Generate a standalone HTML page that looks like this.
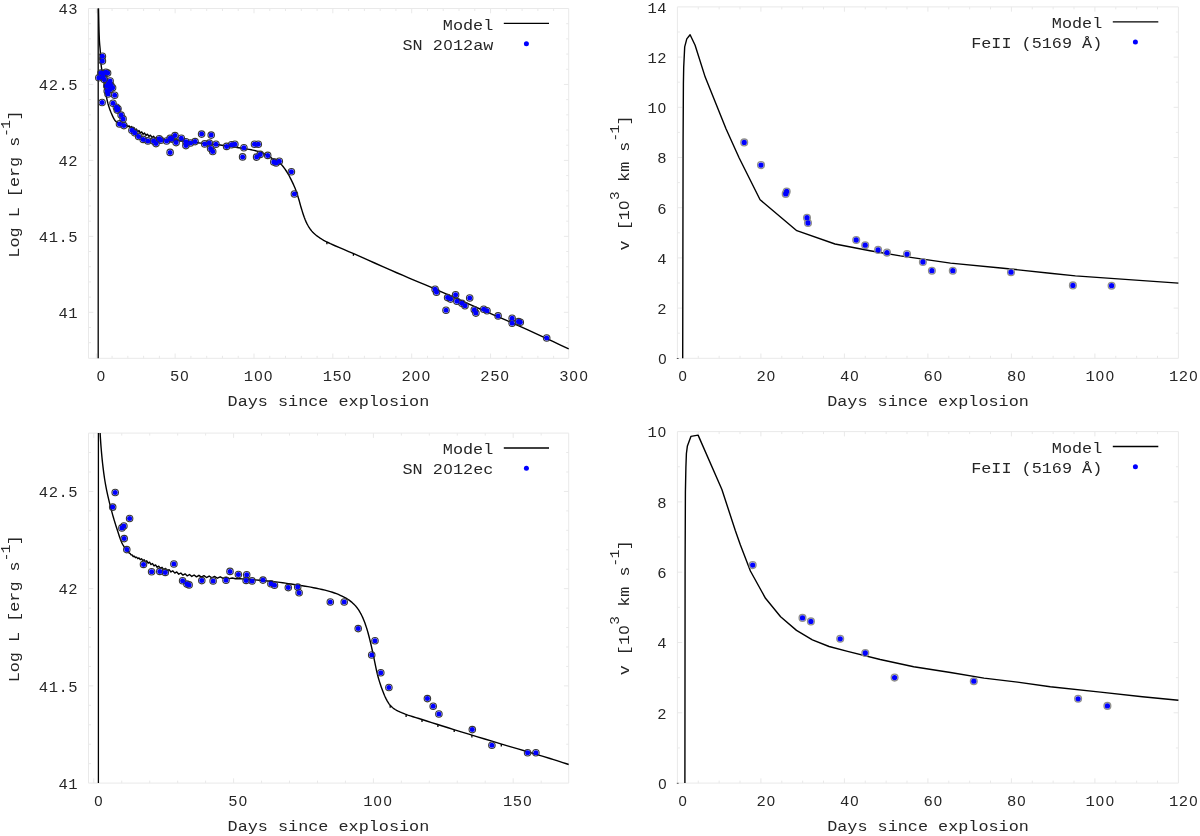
<!DOCTYPE html>
<html lang="en"><head><meta charset="utf-8"><title>Model light curves and velocities</title>
<style>html,body{margin:0;padding:0;background:#fff;overflow:hidden}svg{display:block}text{font-family:"Liberation Mono","DejaVu Sans Mono",monospace;fill:#262626;white-space:pre}.z{font-family:"Liberation Sans","DejaVu Sans",sans-serif}</style>
</head><body>
<svg width="1200" height="836" viewBox="0 0 1200 836">
<rect width="1200" height="836" fill="#fff"/>
<path d="M88.5 8.5H568.7V358.3H88.5ZM96.3 358.3v-4.8M96.3 8.5v4.8M112.07 358.3v-2.5M112.07 8.5v2.5M127.84 358.3v-2.5M127.84 8.5v2.5M143.61 358.3v-2.5M143.61 8.5v2.5M159.38 358.3v-2.5M159.38 8.5v2.5M175.15 358.3v-4.8M175.15 8.5v4.8M190.92 358.3v-2.5M190.92 8.5v2.5M206.69 358.3v-2.5M206.69 8.5v2.5M222.46 358.3v-2.5M222.46 8.5v2.5M238.23 358.3v-2.5M238.23 8.5v2.5M254 358.3v-4.8M254 8.5v4.8M269.77 358.3v-2.5M269.77 8.5v2.5M285.54 358.3v-2.5M285.54 8.5v2.5M301.31 358.3v-2.5M301.31 8.5v2.5M317.08 358.3v-2.5M317.08 8.5v2.5M332.85 358.3v-4.8M332.85 8.5v4.8M348.62 358.3v-2.5M348.62 8.5v2.5M364.39 358.3v-2.5M364.39 8.5v2.5M380.16 358.3v-2.5M380.16 8.5v2.5M395.93 358.3v-2.5M395.93 8.5v2.5M411.7 358.3v-4.8M411.7 8.5v4.8M427.47 358.3v-2.5M427.47 8.5v2.5M443.24 358.3v-2.5M443.24 8.5v2.5M459.01 358.3v-2.5M459.01 8.5v2.5M474.78 358.3v-2.5M474.78 8.5v2.5M490.55 358.3v-4.8M490.55 8.5v4.8M506.32 358.3v-2.5M506.32 8.5v2.5M522.09 358.3v-2.5M522.09 8.5v2.5M537.86 358.3v-2.5M537.86 8.5v2.5M553.63 358.3v-2.5M553.63 8.5v2.5M88.5 342.68h2.5M568.7 342.68h-2.5M88.5 327.49h2.5M568.7 327.49h-2.5M88.5 312.3h4.8M568.7 312.3h-4.8M88.5 297.11h2.5M568.7 297.11h-2.5M88.5 281.92h2.5M568.7 281.92h-2.5M88.5 266.73h2.5M568.7 266.73h-2.5M88.5 251.54h2.5M568.7 251.54h-2.5M88.5 236.35h4.8M568.7 236.35h-4.8M88.5 221.16h2.5M568.7 221.16h-2.5M88.5 205.97h2.5M568.7 205.97h-2.5M88.5 190.78h2.5M568.7 190.78h-2.5M88.5 175.59h2.5M568.7 175.59h-2.5M88.5 160.4h4.8M568.7 160.4h-4.8M88.5 145.21h2.5M568.7 145.21h-2.5M88.5 130.02h2.5M568.7 130.02h-2.5M88.5 114.83h2.5M568.7 114.83h-2.5M88.5 99.64h2.5M568.7 99.64h-2.5M88.5 84.45h4.8M568.7 84.45h-4.8M88.5 69.26h2.5M568.7 69.26h-2.5M88.5 54.07h2.5M568.7 54.07h-2.5M88.5 38.88h2.5M568.7 38.88h-2.5M88.5 23.69h2.5M568.7 23.69h-2.5" fill="none" stroke="#e9e9e9" stroke-width="1"/>
<text x="100.9" y="380.9" text-anchor="middle" font-size="15.5" letter-spacing="0.55" ><tspan class="z" font-size="14.92" dx="0.49" letter-spacing="1.06">0</tspan></text>
<text x="179.75" y="380.9" text-anchor="middle" font-size="15.5" letter-spacing="0.55" >5<tspan class="z" font-size="14.92" dx="0.49" letter-spacing="1.06">0</tspan></text>
<text x="258.6" y="380.9" text-anchor="middle" font-size="15.5" letter-spacing="0.55" >1<tspan class="z" font-size="14.92" dx="0.49" letter-spacing="1.06">0</tspan><tspan class="z" font-size="14.92" dx="0.49" letter-spacing="1.06">0</tspan></text>
<text x="337.45" y="380.9" text-anchor="middle" font-size="15.5" letter-spacing="0.55" >15<tspan class="z" font-size="14.92" dx="0.49" letter-spacing="1.06">0</tspan></text>
<text x="416.3" y="380.9" text-anchor="middle" font-size="15.5" letter-spacing="0.55" >2<tspan class="z" font-size="14.92" dx="0.49" letter-spacing="1.06">0</tspan><tspan class="z" font-size="14.92" dx="0.49" letter-spacing="1.06">0</tspan></text>
<text x="495.15" y="380.9" text-anchor="middle" font-size="15.5" letter-spacing="0.55" >25<tspan class="z" font-size="14.92" dx="0.49" letter-spacing="1.06">0</tspan></text>
<text x="574" y="380.9" text-anchor="middle" font-size="15.5" letter-spacing="0.55" >3<tspan class="z" font-size="14.92" dx="0.49" letter-spacing="1.06">0</tspan><tspan class="z" font-size="14.92" dx="0.49" letter-spacing="1.06">0</tspan></text>
<text x="78.2" y="14.3" text-anchor="end" font-size="15.5" letter-spacing="0.55" >43</text>
<text x="78.2" y="90.25" text-anchor="end" font-size="15.5" letter-spacing="0.55" >42.5</text>
<text x="78.2" y="166.2" text-anchor="end" font-size="15.5" letter-spacing="0.55" >42</text>
<text x="78.2" y="242.15" text-anchor="end" font-size="15.5" letter-spacing="0.55" >41.5</text>
<text x="78.2" y="318.1" text-anchor="end" font-size="15.5" letter-spacing="0.55" >41</text>
<text transform="translate(227.6 406.4) scale(1.16 1)" text-anchor="start" font-size="14.5" letter-spacing="0">Days since explosion</text>
<text transform="translate(19.4 257.7) rotate(-90) scale(1.16 1)" text-anchor="start" font-size="14.5" letter-spacing="0">Log L [erg s<tspan font-size="12.4" dy="-9.8" letter-spacing="-0.5">-1</tspan><tspan dy="9.8">]</tspan></text>
<g>
<path d="M98.2 358.3 L98.2 8.5" fill="none" stroke="#000" stroke-width="1.3" stroke-linejoin="round" stroke-linecap="butt" />
<path d="M98.5 8.5 L98.58 12.16 L98.66 15.9 L98.74 19.64 L98.82 23.29 L98.91 26.78 L99 30 L99.07 32.23 L99.14 34.35 L99.22 36.37 L99.3 38.31 L99.39 40.18 L99.5 42 L99.6 43.4 L99.71 44.7 L99.84 45.95 L99.96 47.22 L100.08 48.55 L100.2 50 L100.35 52.24 L100.48 54.73 L100.62 57.34 L100.76 59.94 L100.92 62.37 L101.1 64.5 L101.23 65.71 L101.36 66.77 L101.5 67.77 L101.65 68.76 L101.81 69.81 L102 71 L102.31 72.95 L102.67 75.1 L103.07 77.38 L103.48 79.73 L103.9 82.09 L104.3 84.4 L104.71 86.81 L105.13 89.31 L105.55 91.82 L105.98 94.26 L106.39 96.55 L106.8 98.6 L107.06 99.82 L107.3 100.92 L107.54 101.95 L107.79 102.95 L108.07 103.99 L108.4 105.1 L108.86 106.57 L109.37 108.11 L109.93 109.7 L110.52 111.29 L111.15 112.84 L111.8 114.3 L112.39 115.61 L112.98 116.92 L113.6 118.19 L114.27 119.39 L115.03 120.48 L115.9 121.4 L116.87 122.09 L117.98 122.64 L119.16 123.08 L120.36 123.46 L121.53 123.82 L122.6 124.2 L123.39 124.51 L124.15 124.8 L124.5 124.67 L125.6 125.73 L126.72 125.27 L127.86 126.77 L129.01 125.79 L130.19 127.74 L131.39 126.41 L132.6 128.7 L133.84 127.54 L135.1 130.08 L136.38 129.08 L137.68 131.67 L139 130.6 L140.34 133.07 L141.71 131.9 L143.1 134.31 L144.52 133.08 L145.96 135.42 L147.42 134.13 L148.91 136.43 L150.42 135.14 L151.96 137.49 L153.52 136.25 L155.11 138.42 L156.73 137.54 L158.37 139.04 L160.5 139.12 L162 139.4 L164.39 139.71 L167.02 139.92 L169.84 140.07 L172.79 140.21 L175.79 140.37 L178.8 140.6 L182.32 140.95 L185.97 141.36 L189.7 141.8 L193.46 142.25 L197.21 142.69 L200.9 143.1 L204.46 143.46 L208.03 143.8 L211.59 144.12 L215.1 144.46 L218.55 144.81 L221.9 145.2 L224.82 145.58 L227.7 145.99 L230.52 146.42 L233.28 146.85 L235.98 147.28 L238.6 147.7 L240.83 148.05 L243.03 148.39 L245.18 148.72 L247.26 149.07 L249.27 149.42 L251.2 149.8 L252.71 150.11 L254.14 150.42 L255.53 150.74 L256.89 151.08 L258.24 151.46 L259.6 151.9 L261.02 152.41 L262.44 152.97 L263.85 153.57 L265.24 154.21 L266.59 154.89 L267.9 155.6 L269.08 156.32 L270.22 157.1 L271.32 157.91 L272.41 158.73 L273.5 159.53 L274.6 160.3 L275.68 160.97 L276.78 161.58 L277.87 162.17 L278.95 162.8 L280 163.49 L281 164.3 L282.07 165.36 L283.09 166.55 L284.08 167.82 L285.03 169.15 L285.93 170.49 L286.8 171.8 L287.58 173.03 L288.31 174.27 L289 175.52 L289.67 176.79 L290.33 178.08 L291 179.4 L291.73 180.87 L292.46 182.37 L293.18 183.9 L293.88 185.45 L294.55 187.02 L295.2 188.6 L295.83 190.23 L296.42 191.89 L296.99 193.56 L297.54 195.24 L298.08 196.92 L298.6 198.6 L299.09 200.23 L299.53 201.85 L299.97 203.46 L300.41 205.1 L300.88 206.77 L301.4 208.5 L302.07 210.66 L302.78 212.94 L303.53 215.27 L304.33 217.59 L305.19 219.82 L306.1 221.9 L306.94 223.6 L307.82 225.24 L308.75 226.82 L309.71 228.33 L310.73 229.76 L311.8 231.1 L312.82 232.23 L313.88 233.28 L314.98 234.26 L316.12 235.2 L317.29 236.11 L318.5 237 L319.76 237.89 L321 238.71 L322.29 239.49 L323.66 240.28 L325.18 241.11 L326.9 242 L330.39 243.69 L334.44 245.5 L338.92 247.42 L343.71 249.43 L348.68 251.53 L353.7 253.7 L360.42 256.67 L367.66 259.89 L375.19 263.25 L382.79 266.63 L390.24 269.91 L397.3 273 L403.06 275.47 L408.55 277.79 L413.92 280.04 L419.33 282.31 L424.9 284.67 L430.8 287.2 L438.52 290.58 L446.7 294.2 L455.13 297.96 L463.63 301.75 L471.98 305.47 L480 309 L486.86 311.98 L493.5 314.82 L500.02 317.61 L506.54 320.4 L513.17 323.27 L520 326.3 L527.85 329.86 L535.9 333.57 L544.07 337.38 L552.3 341.23 L560.53 345.09 L568.7 348.9" fill="none" stroke="#000" stroke-width="1.4" stroke-linejoin="round" stroke-linecap="butt" />
<path d="M326.9 242 L326.9 244.2" fill="none" stroke="#000" stroke-width="1.3" stroke-linejoin="round" stroke-linecap="butt" />
<path d="M353.4 253.6 L353.4 255.8" fill="none" stroke="#000" stroke-width="1.3" stroke-linejoin="round" stroke-linecap="butt" />
</g>
<g fill="none" stroke="#363636" stroke-width="1.1">
<circle cx="102.4" cy="56.3" r="3.25"/>
<circle cx="102.4" cy="60.9" r="3.25"/>
<circle cx="98.8" cy="77.7" r="3.25"/>
<circle cx="100.9" cy="73.1" r="3.25"/>
<circle cx="103" cy="73.5" r="3.25"/>
<circle cx="105.9" cy="72.2" r="3.25"/>
<circle cx="107.6" cy="73.1" r="3.25"/>
<circle cx="103" cy="76.9" r="3.25"/>
<circle cx="104.3" cy="79.4" r="3.25"/>
<circle cx="110.1" cy="81" r="3.25"/>
<circle cx="108.5" cy="83.6" r="3.25"/>
<circle cx="106.8" cy="86.1" r="3.25"/>
<circle cx="111" cy="85.6" r="3.25"/>
<circle cx="112.6" cy="87.7" r="3.25"/>
<circle cx="110.1" cy="89.4" r="3.25"/>
<circle cx="107.2" cy="91.1" r="3.25"/>
<circle cx="108" cy="94" r="3.25"/>
<circle cx="114.7" cy="95.3" r="3.25"/>
<circle cx="102.1" cy="102.5" r="3.25"/>
<circle cx="113" cy="103.3" r="3.25"/>
<circle cx="116.4" cy="107.2" r="3.25"/>
<circle cx="118" cy="108.8" r="3.25"/>
<circle cx="117.2" cy="110.1" r="3.25"/>
<circle cx="121.1" cy="115.1" r="3.25"/>
<circle cx="123.1" cy="118.9" r="3.25"/>
<circle cx="119.5" cy="123.9" r="3.25"/>
<circle cx="123.9" cy="125.6" r="3.25"/>
<circle cx="131.9" cy="130.2" r="3.25"/>
<circle cx="134.8" cy="132.7" r="3.25"/>
<circle cx="138.6" cy="136.5" r="3.25"/>
<circle cx="143.2" cy="139.4" r="3.25"/>
<circle cx="147.9" cy="140.9" r="3.25"/>
<circle cx="153.6" cy="141.1" r="3.25"/>
<circle cx="156" cy="143.6" r="3.25"/>
<circle cx="159.2" cy="138.7" r="3.25"/>
<circle cx="160.8" cy="140.2" r="3.25"/>
<circle cx="166.6" cy="141" r="3.25"/>
<circle cx="170.1" cy="138.2" r="3.25"/>
<circle cx="171.6" cy="139.1" r="3.25"/>
<circle cx="175" cy="135.6" r="3.25"/>
<circle cx="176.1" cy="142.6" r="3.25"/>
<circle cx="181.3" cy="138.3" r="3.25"/>
<circle cx="185.9" cy="141.7" r="3.25"/>
<circle cx="185.9" cy="145.6" r="3.25"/>
<circle cx="190.5" cy="143" r="3.25"/>
<circle cx="195.1" cy="141.6" r="3.25"/>
<circle cx="170.1" cy="152.4" r="3.25"/>
<circle cx="201.6" cy="134.1" r="3.25"/>
<circle cx="211.2" cy="135.1" r="3.25"/>
<circle cx="204.7" cy="143.9" r="3.25"/>
<circle cx="209.3" cy="143.1" r="3.25"/>
<circle cx="216" cy="144.3" r="3.25"/>
<circle cx="210.6" cy="148.5" r="3.25"/>
<circle cx="212.7" cy="151.5" r="3.25"/>
<circle cx="226.6" cy="146.4" r="3.25"/>
<circle cx="231.5" cy="144.8" r="3.25"/>
<circle cx="234.9" cy="144.3" r="3.25"/>
<circle cx="243.9" cy="147.7" r="3.25"/>
<circle cx="254.5" cy="144.3" r="3.25"/>
<circle cx="258.3" cy="144.2" r="3.25"/>
<circle cx="242.6" cy="156.9" r="3.25"/>
<circle cx="256.6" cy="157.1" r="3.25"/>
<circle cx="260.2" cy="154.4" r="3.25"/>
<circle cx="267.7" cy="155.4" r="3.25"/>
<circle cx="273.8" cy="161.9" r="3.25"/>
<circle cx="276.1" cy="162.9" r="3.25"/>
<circle cx="279.3" cy="161.3" r="3.25"/>
<circle cx="291.4" cy="171.7" r="3.25"/>
<circle cx="294.4" cy="194" r="3.25"/>
<circle cx="435.1" cy="289.2" r="3.25"/>
<circle cx="436.5" cy="292.2" r="3.25"/>
<circle cx="447.6" cy="297.6" r="3.25"/>
<circle cx="450.6" cy="299.1" r="3.25"/>
<circle cx="455.6" cy="294.7" r="3.25"/>
<circle cx="456.9" cy="301.2" r="3.25"/>
<circle cx="461.9" cy="303.3" r="3.25"/>
<circle cx="465" cy="305.8" r="3.25"/>
<circle cx="469.7" cy="298" r="3.25"/>
<circle cx="446" cy="310.3" r="3.25"/>
<circle cx="474.3" cy="309.8" r="3.25"/>
<circle cx="475.9" cy="313.1" r="3.25"/>
<circle cx="483.7" cy="309.3" r="3.25"/>
<circle cx="487" cy="310.8" r="3.25"/>
<circle cx="498.1" cy="315.9" r="3.25"/>
<circle cx="512.1" cy="318.3" r="3.25"/>
<circle cx="512.1" cy="323.2" r="3.25"/>
<circle cx="518.5" cy="321.6" r="3.25"/>
<circle cx="520.3" cy="322.3" r="3.25"/>
<circle cx="546.7" cy="338" r="3.25"/>
</g><g fill="#0000ff">
<circle cx="102.4" cy="56.3" r="2.5"/>
<circle cx="102.4" cy="60.9" r="2.5"/>
<circle cx="98.8" cy="77.7" r="2.5"/>
<circle cx="100.9" cy="73.1" r="2.5"/>
<circle cx="103" cy="73.5" r="2.5"/>
<circle cx="105.9" cy="72.2" r="2.5"/>
<circle cx="107.6" cy="73.1" r="2.5"/>
<circle cx="103" cy="76.9" r="2.5"/>
<circle cx="104.3" cy="79.4" r="2.5"/>
<circle cx="110.1" cy="81" r="2.5"/>
<circle cx="108.5" cy="83.6" r="2.5"/>
<circle cx="106.8" cy="86.1" r="2.5"/>
<circle cx="111" cy="85.6" r="2.5"/>
<circle cx="112.6" cy="87.7" r="2.5"/>
<circle cx="110.1" cy="89.4" r="2.5"/>
<circle cx="107.2" cy="91.1" r="2.5"/>
<circle cx="108" cy="94" r="2.5"/>
<circle cx="114.7" cy="95.3" r="2.5"/>
<circle cx="102.1" cy="102.5" r="2.5"/>
<circle cx="113" cy="103.3" r="2.5"/>
<circle cx="116.4" cy="107.2" r="2.5"/>
<circle cx="118" cy="108.8" r="2.5"/>
<circle cx="117.2" cy="110.1" r="2.5"/>
<circle cx="121.1" cy="115.1" r="2.5"/>
<circle cx="123.1" cy="118.9" r="2.5"/>
<circle cx="119.5" cy="123.9" r="2.5"/>
<circle cx="123.9" cy="125.6" r="2.5"/>
<circle cx="131.9" cy="130.2" r="2.5"/>
<circle cx="134.8" cy="132.7" r="2.5"/>
<circle cx="138.6" cy="136.5" r="2.5"/>
<circle cx="143.2" cy="139.4" r="2.5"/>
<circle cx="147.9" cy="140.9" r="2.5"/>
<circle cx="153.6" cy="141.1" r="2.5"/>
<circle cx="156" cy="143.6" r="2.5"/>
<circle cx="159.2" cy="138.7" r="2.5"/>
<circle cx="160.8" cy="140.2" r="2.5"/>
<circle cx="166.6" cy="141" r="2.5"/>
<circle cx="170.1" cy="138.2" r="2.5"/>
<circle cx="171.6" cy="139.1" r="2.5"/>
<circle cx="175" cy="135.6" r="2.5"/>
<circle cx="176.1" cy="142.6" r="2.5"/>
<circle cx="181.3" cy="138.3" r="2.5"/>
<circle cx="185.9" cy="141.7" r="2.5"/>
<circle cx="185.9" cy="145.6" r="2.5"/>
<circle cx="190.5" cy="143" r="2.5"/>
<circle cx="195.1" cy="141.6" r="2.5"/>
<circle cx="170.1" cy="152.4" r="2.5"/>
<circle cx="201.6" cy="134.1" r="2.5"/>
<circle cx="211.2" cy="135.1" r="2.5"/>
<circle cx="204.7" cy="143.9" r="2.5"/>
<circle cx="209.3" cy="143.1" r="2.5"/>
<circle cx="216" cy="144.3" r="2.5"/>
<circle cx="210.6" cy="148.5" r="2.5"/>
<circle cx="212.7" cy="151.5" r="2.5"/>
<circle cx="226.6" cy="146.4" r="2.5"/>
<circle cx="231.5" cy="144.8" r="2.5"/>
<circle cx="234.9" cy="144.3" r="2.5"/>
<circle cx="243.9" cy="147.7" r="2.5"/>
<circle cx="254.5" cy="144.3" r="2.5"/>
<circle cx="258.3" cy="144.2" r="2.5"/>
<circle cx="242.6" cy="156.9" r="2.5"/>
<circle cx="256.6" cy="157.1" r="2.5"/>
<circle cx="260.2" cy="154.4" r="2.5"/>
<circle cx="267.7" cy="155.4" r="2.5"/>
<circle cx="273.8" cy="161.9" r="2.5"/>
<circle cx="276.1" cy="162.9" r="2.5"/>
<circle cx="279.3" cy="161.3" r="2.5"/>
<circle cx="291.4" cy="171.7" r="2.5"/>
<circle cx="294.4" cy="194" r="2.5"/>
<circle cx="435.1" cy="289.2" r="2.5"/>
<circle cx="436.5" cy="292.2" r="2.5"/>
<circle cx="447.6" cy="297.6" r="2.5"/>
<circle cx="450.6" cy="299.1" r="2.5"/>
<circle cx="455.6" cy="294.7" r="2.5"/>
<circle cx="456.9" cy="301.2" r="2.5"/>
<circle cx="461.9" cy="303.3" r="2.5"/>
<circle cx="465" cy="305.8" r="2.5"/>
<circle cx="469.7" cy="298" r="2.5"/>
<circle cx="446" cy="310.3" r="2.5"/>
<circle cx="474.3" cy="309.8" r="2.5"/>
<circle cx="475.9" cy="313.1" r="2.5"/>
<circle cx="483.7" cy="309.3" r="2.5"/>
<circle cx="487" cy="310.8" r="2.5"/>
<circle cx="498.1" cy="315.9" r="2.5"/>
<circle cx="512.1" cy="318.3" r="2.5"/>
<circle cx="512.1" cy="323.2" r="2.5"/>
<circle cx="518.5" cy="321.6" r="2.5"/>
<circle cx="520.3" cy="322.3" r="2.5"/>
<circle cx="546.7" cy="338" r="2.5"/>
</g>
<text transform="translate(493.3 29.7) scale(1.16 1)" text-anchor="end" font-size="14.5" letter-spacing="0">Model</text>
<path d="M503.8 23.4H549" stroke="#000" stroke-width="1.3"/>
<text transform="translate(493.3 49.7) scale(1.16 1)" text-anchor="end" font-size="14.5" letter-spacing="0">SN 2<tspan class="z" font-size="13.96" dx="0.46" letter-spacing="0.48">0</tspan>12aw</text>
<circle cx="526.4" cy="43.7" r="2.5" fill="#0000ff"/>
<path d="M677.4 6.9H1178.4V358.3H677.4ZM698.27 358.3v-2.5M698.27 6.9v2.5M719.15 358.3v-2.5M719.15 6.9v2.5M740.02 358.3v-2.5M740.02 6.9v2.5M760.9 358.3v-4.8M760.9 6.9v4.8M781.77 358.3v-2.5M781.77 6.9v2.5M802.65 358.3v-2.5M802.65 6.9v2.5M823.52 358.3v-2.5M823.52 6.9v2.5M844.4 358.3v-4.8M844.4 6.9v4.8M865.27 358.3v-2.5M865.27 6.9v2.5M886.15 358.3v-2.5M886.15 6.9v2.5M907.02 358.3v-2.5M907.02 6.9v2.5M927.9 358.3v-4.8M927.9 6.9v4.8M948.77 358.3v-2.5M948.77 6.9v2.5M969.65 358.3v-2.5M969.65 6.9v2.5M990.52 358.3v-2.5M990.52 6.9v2.5M1011.4 358.3v-4.8M1011.4 6.9v4.8M1032.28 358.3v-2.5M1032.28 6.9v2.5M1053.15 358.3v-2.5M1053.15 6.9v2.5M1074.03 358.3v-2.5M1074.03 6.9v2.5M1094.9 358.3v-4.8M1094.9 6.9v4.8M1115.78 358.3v-2.5M1115.78 6.9v2.5M1136.65 358.3v-2.5M1136.65 6.9v2.5M1157.53 358.3v-2.5M1157.53 6.9v2.5M677.4 333.2h2.5M1178.4 333.2h-2.5M677.4 308.1h4.8M1178.4 308.1h-4.8M677.4 283h2.5M1178.4 283h-2.5M677.4 257.9h4.8M1178.4 257.9h-4.8M677.4 232.8h2.5M1178.4 232.8h-2.5M677.4 207.7h4.8M1178.4 207.7h-4.8M677.4 182.6h2.5M1178.4 182.6h-2.5M677.4 157.5h4.8M1178.4 157.5h-4.8M677.4 132.4h2.5M1178.4 132.4h-2.5M677.4 107.3h4.8M1178.4 107.3h-4.8M677.4 82.2h2.5M1178.4 82.2h-2.5M677.4 57.1h4.8M1178.4 57.1h-4.8M677.4 32h2.5M1178.4 32h-2.5" fill="none" stroke="#e9e9e9" stroke-width="1"/>
<text x="682.8" y="380.9" text-anchor="middle" font-size="15.5" letter-spacing="0.55" ><tspan class="z" font-size="14.92" dx="0.49" letter-spacing="1.06">0</tspan></text>
<text x="766.3" y="380.9" text-anchor="middle" font-size="15.5" letter-spacing="0.55" >2<tspan class="z" font-size="14.92" dx="0.49" letter-spacing="1.06">0</tspan></text>
<text x="849.8" y="380.9" text-anchor="middle" font-size="15.5" letter-spacing="0.55" >4<tspan class="z" font-size="14.92" dx="0.49" letter-spacing="1.06">0</tspan></text>
<text x="933.3" y="380.9" text-anchor="middle" font-size="15.5" letter-spacing="0.55" >6<tspan class="z" font-size="14.92" dx="0.49" letter-spacing="1.06">0</tspan></text>
<text x="1016.8" y="380.9" text-anchor="middle" font-size="15.5" letter-spacing="0.55" >8<tspan class="z" font-size="14.92" dx="0.49" letter-spacing="1.06">0</tspan></text>
<text x="1100.3" y="380.9" text-anchor="middle" font-size="15.5" letter-spacing="0.55" >1<tspan class="z" font-size="14.92" dx="0.49" letter-spacing="1.06">0</tspan><tspan class="z" font-size="14.92" dx="0.49" letter-spacing="1.06">0</tspan></text>
<text x="1183.8" y="380.9" text-anchor="middle" font-size="15.5" letter-spacing="0.55" >12<tspan class="z" font-size="14.92" dx="0.49" letter-spacing="1.06">0</tspan></text>
<text x="667.2" y="364.1" text-anchor="end" font-size="15.5" letter-spacing="0.55" ><tspan class="z" font-size="14.92" dx="0.49" letter-spacing="1.06">0</tspan></text>
<text x="667.2" y="313.9" text-anchor="end" font-size="15.5" letter-spacing="0.55" >2</text>
<text x="667.2" y="263.7" text-anchor="end" font-size="15.5" letter-spacing="0.55" >4</text>
<text x="667.2" y="213.5" text-anchor="end" font-size="15.5" letter-spacing="0.55" >6</text>
<text x="667.2" y="163.3" text-anchor="end" font-size="15.5" letter-spacing="0.55" >8</text>
<text x="667.2" y="113.1" text-anchor="end" font-size="15.5" letter-spacing="0.55" >1<tspan class="z" font-size="14.92" dx="0.49" letter-spacing="1.06">0</tspan></text>
<text x="667.2" y="62.9" text-anchor="end" font-size="15.5" letter-spacing="0.55" >12</text>
<text x="667.2" y="12.7" text-anchor="end" font-size="15.5" letter-spacing="0.55" >14</text>
<text transform="translate(827.2 406.4) scale(1.16 1)" text-anchor="start" font-size="14.5" letter-spacing="0">Days since explosion</text>
<text transform="translate(628.8 250.5) rotate(-90) scale(1.16 1)" text-anchor="start" font-size="14.5" letter-spacing="0">v [1<tspan class="z" font-size="13.96" dx="0.46" letter-spacing="0.48">0</tspan><tspan font-size="12.4" dy="-9.8" letter-spacing="-0.5">3</tspan><tspan dy="9.8"> km s</tspan><tspan font-size="12.4" dy="-9.8" letter-spacing="-0.5">-1</tspan><tspan dy="9.8">]</tspan></text>
<path d="M676.8 358.5h1.8" stroke="#444" stroke-width="0.9"/>
<path d="M682.7 358.3 L683.1 140 L683.4 83.8 L683.7 67 L684.7 46.9 L686.8 38.9 L690.1 34.8 L695.1 45.2 L705.2 77.1 L726.1 129 L739.2 158 L760.1 199.7 L796.8 230.7 L835 244 L870 250.7 L900.3 255.9 L950.5 263.1 L1000.8 268 L1050 273.2 L1075.4 275.9 L1178.4 283.1" fill="none" stroke="#000" stroke-width="1.4" stroke-linejoin="round" stroke-linecap="butt" />
<g fill="none" stroke="#90908c" stroke-width="1.3">
<circle cx="744.2" cy="142.4" r="3.4"/>
<circle cx="761" cy="165.1" r="3.4"/>
<circle cx="786.7" cy="191.5" r="3.4"/>
<circle cx="785.7" cy="193.9" r="3.4"/>
<circle cx="807" cy="217.7" r="3.4"/>
<circle cx="808" cy="223" r="3.4"/>
<circle cx="856.2" cy="240" r="3.4"/>
<circle cx="865.2" cy="245.2" r="3.4"/>
<circle cx="878.1" cy="249.9" r="3.4"/>
<circle cx="887" cy="252.6" r="3.4"/>
<circle cx="907" cy="254.1" r="3.4"/>
<circle cx="922.9" cy="262" r="3.4"/>
<circle cx="931.9" cy="270.7" r="3.4"/>
<circle cx="952.8" cy="270.7" r="3.4"/>
<circle cx="1011" cy="272.2" r="3.4"/>
<circle cx="1072.9" cy="285.4" r="3.4"/>
<circle cx="1111.6" cy="285.7" r="3.4"/>
</g><g fill="#0000ff">
<circle cx="744.2" cy="142.4" r="2.65"/>
<circle cx="761" cy="165.1" r="2.65"/>
<circle cx="786.7" cy="191.5" r="2.65"/>
<circle cx="785.7" cy="193.9" r="2.65"/>
<circle cx="807" cy="217.7" r="2.65"/>
<circle cx="808" cy="223" r="2.65"/>
<circle cx="856.2" cy="240" r="2.65"/>
<circle cx="865.2" cy="245.2" r="2.65"/>
<circle cx="878.1" cy="249.9" r="2.65"/>
<circle cx="887" cy="252.6" r="2.65"/>
<circle cx="907" cy="254.1" r="2.65"/>
<circle cx="922.9" cy="262" r="2.65"/>
<circle cx="931.9" cy="270.7" r="2.65"/>
<circle cx="952.8" cy="270.7" r="2.65"/>
<circle cx="1011" cy="272.2" r="2.65"/>
<circle cx="1072.9" cy="285.4" r="2.65"/>
<circle cx="1111.6" cy="285.7" r="2.65"/>
</g>
<text transform="translate(1102.3 28.1) scale(1.16 1)" text-anchor="end" font-size="14.5" letter-spacing="0">Model</text>
<path d="M1112.8 21.8H1158.3" stroke="#000" stroke-width="1.3"/>
<text transform="translate(1102.3 48.1) scale(1.16 1)" text-anchor="end" font-size="14.5" letter-spacing="0">FeII (5169 Å)</text>
<circle cx="1135.4" cy="42.1" r="2.5" fill="#0000ff"/>
<path d="M88.5 433.1H568.7V783.1H88.5ZM93.8 783.1v-4.8M93.8 433.1v4.8M121.76 783.1v-2.5M121.76 433.1v2.5M149.72 783.1v-2.5M149.72 433.1v2.5M177.68 783.1v-2.5M177.68 433.1v2.5M205.64 783.1v-2.5M205.64 433.1v2.5M233.6 783.1v-4.8M233.6 433.1v4.8M261.56 783.1v-2.5M261.56 433.1v2.5M289.52 783.1v-2.5M289.52 433.1v2.5M317.48 783.1v-2.5M317.48 433.1v2.5M345.44 783.1v-2.5M345.44 433.1v2.5M373.4 783.1v-4.8M373.4 433.1v4.8M401.36 783.1v-2.5M401.36 433.1v2.5M429.32 783.1v-2.5M429.32 433.1v2.5M457.28 783.1v-2.5M457.28 433.1v2.5M485.24 783.1v-2.5M485.24 433.1v2.5M513.2 783.1v-4.8M513.2 433.1v4.8M541.16 783.1v-2.5M541.16 433.1v2.5M88.5 763.66h2.5M568.7 763.66h-2.5M88.5 744.21h2.5M568.7 744.21h-2.5M88.5 724.77h2.5M568.7 724.77h-2.5M88.5 705.32h2.5M568.7 705.32h-2.5M88.5 685.88h4.8M568.7 685.88h-4.8M88.5 666.43h2.5M568.7 666.43h-2.5M88.5 646.99h2.5M568.7 646.99h-2.5M88.5 627.54h2.5M568.7 627.54h-2.5M88.5 608.1h2.5M568.7 608.1h-2.5M88.5 588.66h4.8M568.7 588.66h-4.8M88.5 569.21h2.5M568.7 569.21h-2.5M88.5 549.77h2.5M568.7 549.77h-2.5M88.5 530.32h2.5M568.7 530.32h-2.5M88.5 510.88h2.5M568.7 510.88h-2.5M88.5 491.43h4.8M568.7 491.43h-4.8M88.5 471.99h2.5M568.7 471.99h-2.5M88.5 452.54h2.5M568.7 452.54h-2.5" fill="none" stroke="#e9e9e9" stroke-width="1"/>
<text x="98.4" y="805.5" text-anchor="middle" font-size="15.5" letter-spacing="0.55" ><tspan class="z" font-size="14.92" dx="0.49" letter-spacing="1.06">0</tspan></text>
<text x="238.2" y="805.5" text-anchor="middle" font-size="15.5" letter-spacing="0.55" >5<tspan class="z" font-size="14.92" dx="0.49" letter-spacing="1.06">0</tspan></text>
<text x="378" y="805.5" text-anchor="middle" font-size="15.5" letter-spacing="0.55" >1<tspan class="z" font-size="14.92" dx="0.49" letter-spacing="1.06">0</tspan><tspan class="z" font-size="14.92" dx="0.49" letter-spacing="1.06">0</tspan></text>
<text x="517.8" y="805.5" text-anchor="middle" font-size="15.5" letter-spacing="0.55" >15<tspan class="z" font-size="14.92" dx="0.49" letter-spacing="1.06">0</tspan></text>
<text x="78.2" y="497.23" text-anchor="end" font-size="15.5" letter-spacing="0.55" >42.5</text>
<text x="78.2" y="594.46" text-anchor="end" font-size="15.5" letter-spacing="0.55" >42</text>
<text x="78.2" y="691.68" text-anchor="end" font-size="15.5" letter-spacing="0.55" >41.5</text>
<text x="78.2" y="788.9" text-anchor="end" font-size="15.5" letter-spacing="0.55" >41</text>
<text transform="translate(227.6 831.1) scale(1.16 1)" text-anchor="start" font-size="14.5" letter-spacing="0">Days since explosion</text>
<text transform="translate(19.4 682.3) rotate(-90) scale(1.16 1)" text-anchor="start" font-size="14.5" letter-spacing="0">Log L [erg s<tspan font-size="12.4" dy="-9.8" letter-spacing="-0.5">-1</tspan><tspan dy="9.8">]</tspan></text>
<path d="M98.4 783.1 L98.4 433.1" fill="none" stroke="#000" stroke-width="1.3" stroke-linejoin="round" stroke-linecap="butt" />
<path d="M100.1 433 L100.23 434.99 L100.35 436.94 L100.47 438.89 L100.6 440.88 L100.74 442.94 L100.9 445.1 L101.13 447.95 L101.38 450.95 L101.65 454.06 L101.95 457.22 L102.26 460.39 L102.6 463.5 L102.96 466.6 L103.33 469.7 L103.73 472.81 L104.16 475.91 L104.61 478.98 L105.1 482 L105.6 484.83 L106.12 487.6 L106.66 490.35 L107.24 493.09 L107.85 495.87 L108.5 498.7 L109.25 501.86 L110.07 505.13 L110.92 508.43 L111.79 511.69 L112.66 514.83 L113.5 517.8 L114.17 520.08 L114.84 522.26 L115.5 524.37 L116.16 526.43 L116.83 528.46 L117.5 530.5 L118.14 532.47 L118.77 534.48 L119.41 536.46 L120.06 538.37 L120.72 540.17 L121.4 541.8 L121.9 542.87 L122.4 543.85 L122.91 544.77 L123.44 545.65 L124 546.51 L124.6 547.4 L125.29 548.36 L126.02 549.33 L126.79 550.28 L127.58 551.21 L128 551.41 L129 552.99 L130.02 553.34 L131.06 554.9 L132.13 554.97 L133.21 556.47 L134.32 556.21 L135.45 557.68 L136.61 557.13 L137.79 558.65 L138.99 557.91 L140.22 559.58 L141.48 558.72 L142.76 560.62 L144.06 559.71 L145.4 561.86 L146.76 560.84 L148.15 563.19 L149.57 562.16 L151.02 564.54 L152.5 563.53 L154.01 565.91 L155.55 564.88 L157.13 567.24 L158.73 566.15 L160.37 568.45 L162.05 567.32 L163.76 569.58 L165.5 568.45 L167.28 570.74 L169.1 569.64 L170.96 571.94 L172.85 570.83 L174.79 573.1 L176.76 571.95 L178.78 574.18 L180.84 572.98 L182.94 575.14 L185.08 573.85 L187.27 575.9 L189.51 574.5 L191.79 576.46 L194.12 574.99 L196.49 576.87 L198.92 575.32 L201.4 577.15 L203.93 575.63 L206.51 577.52 L209.14 576.03 L211.83 577.92 L214.58 576.39 L217.38 578.22 L220.25 576.78 L223.17 578.38 L226.15 577.37 L229.2 578.62 L232.3 577.96 L235.48 578.77 L237.86 578.62 L240.06 578.75 L242.4 578.9 L246.18 579.18 L250.44 579.51 L254.95 579.88 L259.45 580.26 L263.72 580.64 L267.5 581 L269.81 581.23 L271.92 581.45 L273.91 581.66 L275.86 581.88 L277.86 582.13 L280 582.4 L282.66 582.76 L285.42 583.15 L288.25 583.57 L291.11 584.01 L293.98 584.45 L296.8 584.9 L299.59 585.34 L302.37 585.77 L305.16 586.21 L307.94 586.68 L310.72 587.17 L313.5 587.7 L316.34 588.27 L319.23 588.86 L322.11 589.49 L324.95 590.15 L327.69 590.85 L330.3 591.6 L332.42 592.27 L334.46 592.97 L336.45 593.71 L338.36 594.47 L340.21 595.27 L342 596.1 L343.52 596.86 L344.99 597.63 L346.41 598.43 L347.79 599.26 L349.11 600.15 L350.4 601.1 L351.63 602.1 L352.81 603.15 L353.96 604.24 L355.05 605.39 L356.1 606.57 L357.1 607.8 L358.05 609.09 L358.94 610.43 L359.78 611.81 L360.58 613.23 L361.35 614.69 L362.1 616.2 L362.89 617.91 L363.63 619.68 L364.34 621.5 L365.02 623.36 L365.67 625.23 L366.3 627.1 L366.91 629 L367.48 630.89 L368.02 632.8 L368.55 634.74 L369.07 636.74 L369.6 638.8 L370.21 641.25 L370.81 643.78 L371.4 646.37 L371.99 649.02 L372.59 651.73 L373.2 654.5 L373.91 657.82 L374.61 661.33 L375.33 664.91 L376.06 668.47 L376.82 671.9 L377.6 675.1 L378.26 677.54 L378.94 679.87 L379.63 682.12 L380.34 684.3 L381.06 686.42 L381.8 688.5 L382.46 690.3 L383.14 692.08 L383.82 693.8 L384.52 695.47 L385.25 697.07 L386 698.6 L386.65 699.84 L387.31 701.04 L387.98 702.19 L388.68 703.29 L389.41 704.33 L390.2 705.3 L390.94 706.11 L391.7 706.85 L392.48 707.54 L393.32 708.21 L394.22 708.85 L395.2 709.5 L396.62 710.34 L398.16 711.15 L399.82 711.93 L401.57 712.7 L403.4 713.45 L405.3 714.2 L407.76 715.1 L410.34 715.95 L413.03 716.79 L415.87 717.63 L418.85 718.53 L422 719.5 L426.65 720.98 L431.65 722.57 L436.92 724.26 L442.43 726 L448.11 727.79 L453.9 729.6 L461.18 731.84 L468.82 734.17 L476.71 736.55 L484.75 738.97 L492.81 741.4 L500.8 743.8 L509.2 746.31 L517.98 748.92 L526.79 751.53 L535.29 754.05 L543.14 756.41 L550 758.5 L553.64 759.64 L556.9 760.67 L559.91 761.65 L562.8 762.59 L565.69 763.53 L568.7 764.5" fill="none" stroke="#000" stroke-width="1.4" stroke-linejoin="round" stroke-linecap="butt" />
<path d="M390.2 705.3 L390.2 707.7" fill="none" stroke="#000" stroke-width="1.3" stroke-linejoin="round" stroke-linecap="butt" />
<path d="M406.1 714.5 L406.1 716.9" fill="none" stroke="#000" stroke-width="1.3" stroke-linejoin="round" stroke-linecap="butt" />
<path d="M422 719.5 L422 721.9" fill="none" stroke="#000" stroke-width="1.3" stroke-linejoin="round" stroke-linecap="butt" />
<path d="M437.9 724.5 L437.9 726.9" fill="none" stroke="#000" stroke-width="1.3" stroke-linejoin="round" stroke-linecap="butt" />
<path d="M454.2 729.7 L454.2 732.1" fill="none" stroke="#000" stroke-width="1.3" stroke-linejoin="round" stroke-linecap="butt" />
<path d="M471.9 735.1 L471.9 737.5" fill="none" stroke="#000" stroke-width="1.3" stroke-linejoin="round" stroke-linecap="butt" />
<path d="M501.3 744 L501.3 746.4" fill="none" stroke="#000" stroke-width="1.3" stroke-linejoin="round" stroke-linecap="butt" />
<g fill="none" stroke="#363636" stroke-width="1.1">
<circle cx="115.2" cy="492.5" r="3.25"/>
<circle cx="112.7" cy="507.1" r="3.25"/>
<circle cx="129.6" cy="518.5" r="3.25"/>
<circle cx="123.9" cy="526" r="3.25"/>
<circle cx="121.9" cy="527.9" r="3.25"/>
<circle cx="124.2" cy="538.6" r="3.25"/>
<circle cx="126.8" cy="549.6" r="3.25"/>
<circle cx="143.5" cy="564.4" r="3.25"/>
<circle cx="151.6" cy="571.7" r="3.25"/>
<circle cx="159.8" cy="571.4" r="3.25"/>
<circle cx="165.3" cy="572.4" r="3.25"/>
<circle cx="173.9" cy="564" r="3.25"/>
<circle cx="182.6" cy="580.7" r="3.25"/>
<circle cx="186.9" cy="584.1" r="3.25"/>
<circle cx="189.1" cy="584.9" r="3.25"/>
<circle cx="201.8" cy="580.6" r="3.25"/>
<circle cx="213.1" cy="580.9" r="3.25"/>
<circle cx="226" cy="580.2" r="3.25"/>
<circle cx="230" cy="571.4" r="3.25"/>
<circle cx="238.4" cy="574.5" r="3.25"/>
<circle cx="246.7" cy="574.7" r="3.25"/>
<circle cx="246.1" cy="580.4" r="3.25"/>
<circle cx="252.1" cy="580.9" r="3.25"/>
<circle cx="263" cy="580.1" r="3.25"/>
<circle cx="270.9" cy="583.8" r="3.25"/>
<circle cx="274.5" cy="585.3" r="3.25"/>
<circle cx="288.3" cy="587.6" r="3.25"/>
<circle cx="297.7" cy="587.1" r="3.25"/>
<circle cx="299.1" cy="592.8" r="3.25"/>
<circle cx="330.3" cy="602" r="3.25"/>
<circle cx="344.2" cy="602" r="3.25"/>
<circle cx="358.2" cy="628.6" r="3.25"/>
<circle cx="375" cy="640.7" r="3.25"/>
<circle cx="371.7" cy="655" r="3.25"/>
<circle cx="380.8" cy="672.8" r="3.25"/>
<circle cx="388.9" cy="687.5" r="3.25"/>
<circle cx="427.4" cy="698.6" r="3.25"/>
<circle cx="433.2" cy="706.3" r="3.25"/>
<circle cx="438.9" cy="714" r="3.25"/>
<circle cx="472.3" cy="729.6" r="3.25"/>
<circle cx="491.9" cy="745.3" r="3.25"/>
<circle cx="527.6" cy="752.8" r="3.25"/>
<circle cx="535.9" cy="752.8" r="3.25"/>
</g><g fill="#0000ff">
<circle cx="115.2" cy="492.5" r="2.5"/>
<circle cx="112.7" cy="507.1" r="2.5"/>
<circle cx="129.6" cy="518.5" r="2.5"/>
<circle cx="123.9" cy="526" r="2.5"/>
<circle cx="121.9" cy="527.9" r="2.5"/>
<circle cx="124.2" cy="538.6" r="2.5"/>
<circle cx="126.8" cy="549.6" r="2.5"/>
<circle cx="143.5" cy="564.4" r="2.5"/>
<circle cx="151.6" cy="571.7" r="2.5"/>
<circle cx="159.8" cy="571.4" r="2.5"/>
<circle cx="165.3" cy="572.4" r="2.5"/>
<circle cx="173.9" cy="564" r="2.5"/>
<circle cx="182.6" cy="580.7" r="2.5"/>
<circle cx="186.9" cy="584.1" r="2.5"/>
<circle cx="189.1" cy="584.9" r="2.5"/>
<circle cx="201.8" cy="580.6" r="2.5"/>
<circle cx="213.1" cy="580.9" r="2.5"/>
<circle cx="226" cy="580.2" r="2.5"/>
<circle cx="230" cy="571.4" r="2.5"/>
<circle cx="238.4" cy="574.5" r="2.5"/>
<circle cx="246.7" cy="574.7" r="2.5"/>
<circle cx="246.1" cy="580.4" r="2.5"/>
<circle cx="252.1" cy="580.9" r="2.5"/>
<circle cx="263" cy="580.1" r="2.5"/>
<circle cx="270.9" cy="583.8" r="2.5"/>
<circle cx="274.5" cy="585.3" r="2.5"/>
<circle cx="288.3" cy="587.6" r="2.5"/>
<circle cx="297.7" cy="587.1" r="2.5"/>
<circle cx="299.1" cy="592.8" r="2.5"/>
<circle cx="330.3" cy="602" r="2.5"/>
<circle cx="344.2" cy="602" r="2.5"/>
<circle cx="358.2" cy="628.6" r="2.5"/>
<circle cx="375" cy="640.7" r="2.5"/>
<circle cx="371.7" cy="655" r="2.5"/>
<circle cx="380.8" cy="672.8" r="2.5"/>
<circle cx="388.9" cy="687.5" r="2.5"/>
<circle cx="427.4" cy="698.6" r="2.5"/>
<circle cx="433.2" cy="706.3" r="2.5"/>
<circle cx="438.9" cy="714" r="2.5"/>
<circle cx="472.3" cy="729.6" r="2.5"/>
<circle cx="491.9" cy="745.3" r="2.5"/>
<circle cx="527.6" cy="752.8" r="2.5"/>
<circle cx="535.9" cy="752.8" r="2.5"/>
</g>
<text transform="translate(493.3 454.3) scale(1.16 1)" text-anchor="end" font-size="14.5" letter-spacing="0">Model</text>
<path d="M503.8 448H549" stroke="#000" stroke-width="1.3"/>
<text transform="translate(493.3 474.3) scale(1.16 1)" text-anchor="end" font-size="14.5" letter-spacing="0">SN 2<tspan class="z" font-size="13.96" dx="0.46" letter-spacing="0.48">0</tspan>12ec</text>
<circle cx="526.4" cy="468.3" r="2.5" fill="#0000ff"/>
<path d="M677.4 431.6H1178.4V783.1H677.4ZM698.27 783.1v-2.5M698.27 431.6v2.5M719.15 783.1v-2.5M719.15 431.6v2.5M740.02 783.1v-2.5M740.02 431.6v2.5M760.9 783.1v-4.8M760.9 431.6v4.8M781.77 783.1v-2.5M781.77 431.6v2.5M802.65 783.1v-2.5M802.65 431.6v2.5M823.52 783.1v-2.5M823.52 431.6v2.5M844.4 783.1v-4.8M844.4 431.6v4.8M865.27 783.1v-2.5M865.27 431.6v2.5M886.15 783.1v-2.5M886.15 431.6v2.5M907.02 783.1v-2.5M907.02 431.6v2.5M927.9 783.1v-4.8M927.9 431.6v4.8M948.77 783.1v-2.5M948.77 431.6v2.5M969.65 783.1v-2.5M969.65 431.6v2.5M990.52 783.1v-2.5M990.52 431.6v2.5M1011.4 783.1v-4.8M1011.4 431.6v4.8M1032.28 783.1v-2.5M1032.28 431.6v2.5M1053.15 783.1v-2.5M1053.15 431.6v2.5M1074.03 783.1v-2.5M1074.03 431.6v2.5M1094.9 783.1v-4.8M1094.9 431.6v4.8M1115.78 783.1v-2.5M1115.78 431.6v2.5M1136.65 783.1v-2.5M1136.65 431.6v2.5M1157.53 783.1v-2.5M1157.53 431.6v2.5M677.4 747.95h2.5M1178.4 747.95h-2.5M677.4 712.8h4.8M1178.4 712.8h-4.8M677.4 677.65h2.5M1178.4 677.65h-2.5M677.4 642.5h4.8M1178.4 642.5h-4.8M677.4 607.35h2.5M1178.4 607.35h-2.5M677.4 572.2h4.8M1178.4 572.2h-4.8M677.4 537.05h2.5M1178.4 537.05h-2.5M677.4 501.9h4.8M1178.4 501.9h-4.8M677.4 466.75h2.5M1178.4 466.75h-2.5" fill="none" stroke="#e9e9e9" stroke-width="1"/>
<text x="682.8" y="805.5" text-anchor="middle" font-size="15.5" letter-spacing="0.55" ><tspan class="z" font-size="14.92" dx="0.49" letter-spacing="1.06">0</tspan></text>
<text x="766.3" y="805.5" text-anchor="middle" font-size="15.5" letter-spacing="0.55" >2<tspan class="z" font-size="14.92" dx="0.49" letter-spacing="1.06">0</tspan></text>
<text x="849.8" y="805.5" text-anchor="middle" font-size="15.5" letter-spacing="0.55" >4<tspan class="z" font-size="14.92" dx="0.49" letter-spacing="1.06">0</tspan></text>
<text x="933.3" y="805.5" text-anchor="middle" font-size="15.5" letter-spacing="0.55" >6<tspan class="z" font-size="14.92" dx="0.49" letter-spacing="1.06">0</tspan></text>
<text x="1016.8" y="805.5" text-anchor="middle" font-size="15.5" letter-spacing="0.55" >8<tspan class="z" font-size="14.92" dx="0.49" letter-spacing="1.06">0</tspan></text>
<text x="1100.3" y="805.5" text-anchor="middle" font-size="15.5" letter-spacing="0.55" >1<tspan class="z" font-size="14.92" dx="0.49" letter-spacing="1.06">0</tspan><tspan class="z" font-size="14.92" dx="0.49" letter-spacing="1.06">0</tspan></text>
<text x="1183.8" y="805.5" text-anchor="middle" font-size="15.5" letter-spacing="0.55" >12<tspan class="z" font-size="14.92" dx="0.49" letter-spacing="1.06">0</tspan></text>
<text x="667.2" y="788.9" text-anchor="end" font-size="15.5" letter-spacing="0.55" ><tspan class="z" font-size="14.92" dx="0.49" letter-spacing="1.06">0</tspan></text>
<text x="667.2" y="718.6" text-anchor="end" font-size="15.5" letter-spacing="0.55" >2</text>
<text x="667.2" y="648.3" text-anchor="end" font-size="15.5" letter-spacing="0.55" >4</text>
<text x="667.2" y="578" text-anchor="end" font-size="15.5" letter-spacing="0.55" >6</text>
<text x="667.2" y="507.7" text-anchor="end" font-size="15.5" letter-spacing="0.55" >8</text>
<text x="667.2" y="437.4" text-anchor="end" font-size="15.5" letter-spacing="0.55" >1<tspan class="z" font-size="14.92" dx="0.49" letter-spacing="1.06">0</tspan></text>
<text transform="translate(827.2 831.1) scale(1.16 1)" text-anchor="start" font-size="14.5" letter-spacing="0">Days since explosion</text>
<text transform="translate(628.8 675.3) rotate(-90) scale(1.16 1)" text-anchor="start" font-size="14.5" letter-spacing="0">v [1<tspan class="z" font-size="13.96" dx="0.46" letter-spacing="0.48">0</tspan><tspan font-size="12.4" dy="-9.8" letter-spacing="-0.5">3</tspan><tspan dy="9.8"> km s</tspan><tspan font-size="12.4" dy="-9.8" letter-spacing="-0.5">-1</tspan><tspan dy="9.8">]</tspan></text>
<path d="M676.8 783.3h1.8" stroke="#444" stroke-width="0.9"/>
<path d="M684.9 783.1 L685.1 565 L685.4 492 L685.9 466.9 L686.4 453.5 L687.4 445.9 L690.9 436.4 L698.1 435.1 L721.9 489.5 L735.3 530.5 L740.4 545 L750.4 571 L765.5 598.3 L780.6 616.7 L796.5 630.4 L812.4 639.8 L829.1 646.5 L847.6 651.4 L880.2 659.5 L913.7 666.7 L950.5 672.5 L984 678.1 L1017.5 682.1 L1050.3 686.8 L1100.5 692.1 L1142.4 696.8 L1178.4 700.2" fill="none" stroke="#000" stroke-width="1.4" stroke-linejoin="round" stroke-linecap="butt" />
<g fill="none" stroke="#90908c" stroke-width="1.3">
<circle cx="752.7" cy="565.1" r="3.4"/>
<circle cx="802.5" cy="617.9" r="3.4"/>
<circle cx="810.9" cy="621.4" r="3.4"/>
<circle cx="840.2" cy="638.8" r="3.4"/>
<circle cx="865.3" cy="653" r="3.4"/>
<circle cx="894.6" cy="677.6" r="3.4"/>
<circle cx="973.8" cy="681.2" r="3.4"/>
<circle cx="1078.1" cy="698.8" r="3.4"/>
<circle cx="1107.4" cy="705.9" r="3.4"/>
</g><g fill="#0000ff">
<circle cx="752.7" cy="565.1" r="2.65"/>
<circle cx="802.5" cy="617.9" r="2.65"/>
<circle cx="810.9" cy="621.4" r="2.65"/>
<circle cx="840.2" cy="638.8" r="2.65"/>
<circle cx="865.3" cy="653" r="2.65"/>
<circle cx="894.6" cy="677.6" r="2.65"/>
<circle cx="973.8" cy="681.2" r="2.65"/>
<circle cx="1078.1" cy="698.8" r="2.65"/>
<circle cx="1107.4" cy="705.9" r="2.65"/>
</g>
<text transform="translate(1102.3 452.8) scale(1.16 1)" text-anchor="end" font-size="14.5" letter-spacing="0">Model</text>
<path d="M1112.8 446.5H1158.3" stroke="#000" stroke-width="1.3"/>
<text transform="translate(1102.3 472.8) scale(1.16 1)" text-anchor="end" font-size="14.5" letter-spacing="0">FeII (5169 Å)</text>
<circle cx="1135.4" cy="466.8" r="2.5" fill="#0000ff"/>
</svg></body></html>
